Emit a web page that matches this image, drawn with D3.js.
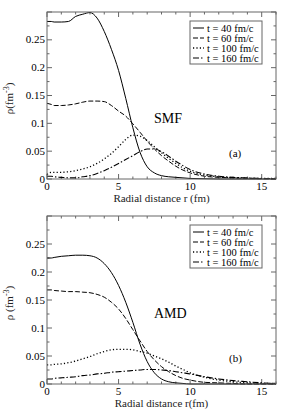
<!DOCTYPE html>
<html>
<head>
<meta charset="utf-8">
<script src="https://cdn.jsdelivr.net/npm/d3@7"></script>
<style>
  body { margin: 0; background: #fff; }
  svg { display: block; font-family: "Liberation Serif", "DejaVu Serif", serif; }
  .frame { fill: none; stroke: #666; stroke-width: 1; }
  .tick-line { stroke: #666; stroke-width: 1; }
</style>
</head>
<body>
<div id="chart"></div>
<script>
// radial grid (fm)
const rSMF = [0, 0.3, 0.5, 1, 1.5, 2, 2.5, 3, 3.5, 4, 4.5, 5, 5.5, 6, 6.5, 7, 7.5, 8, 8.5, 9, 9.5, 10, 11, 12, 13, 14, 15, 16];

// SMF densities (fm^-3)
const smf40  = [0.283, 0.283, 0.282, 0.282, 0.283, 0.292, 0.296, 0.299, 0.289, 0.265, 0.233, 0.195, 0.145, 0.092, 0.048, 0.022, 0.011, 0.006, 0.004, 0.003, 0.002, 0.001, 0.0005, 0, 0, 0, 0, 0];
const smf60  = [0.136, 0.134, 0.132, 0.132, 0.133, 0.135, 0.138, 0.140, 0.140, 0.139, 0.132, 0.122, 0.113, 0.099, 0.084, 0.068, 0.054, 0.042, 0.032, 0.023, 0.016, 0.011, 0.005, 0.003, 0.002, 0.001, 0.0005, 0];
const smf100 = [0.008, 0.012, 0.012, 0.012, 0.013, 0.015, 0.018, 0.022, 0.028, 0.036, 0.046, 0.058, 0.071, 0.079, 0.077, 0.069, 0.058, 0.047, 0.037, 0.028, 0.020, 0.014, 0.007, 0.004, 0.002, 0.0015, 0.001, 0.001];
const smf160 = [0.005, 0.005, 0.004, 0.003, 0.002, 0.002, 0.004, 0.006, 0.010, 0.015, 0.021, 0.028, 0.035, 0.042, 0.049, 0.054, 0.054, 0.049, 0.041, 0.032, 0.024, 0.017, 0.009, 0.005, 0.003, 0.002, 0.001, 0.001];

// AMD densities (fm^-3)
const amd40  = [0.225, 0.225, 0.226, 0.228, 0.229, 0.230, 0.230, 0.229, 0.225, 0.215, 0.199, 0.176, 0.146, 0.110, 0.071, 0.040, 0.020, 0.009, 0.004, 0.002, 0.001, 0, 0, 0, 0, 0, 0, 0];
const amd60  = [0.168, 0.168, 0.167, 0.166, 0.165, 0.165, 0.164, 0.163, 0.160, 0.155, 0.146, 0.134, 0.117, 0.097, 0.077, 0.058, 0.043, 0.031, 0.022, 0.015, 0.010, 0.007, 0.003, 0.002, 0.001, 0, 0, 0];
const amd100 = [0.034, 0.034, 0.035, 0.036, 0.038, 0.041, 0.045, 0.049, 0.054, 0.058, 0.061, 0.062, 0.062, 0.061, 0.058, 0.055, 0.050, 0.045, 0.039, 0.032, 0.026, 0.020, 0.012, 0.007, 0.004, 0.002, 0.001, 0.001];
const amd160 = [0.009, 0.009, 0.010, 0.011, 0.012, 0.013, 0.015, 0.016, 0.018, 0.019, 0.021, 0.022, 0.023, 0.024, 0.025, 0.026, 0.026, 0.025, 0.024, 0.022, 0.020, 0.018, 0.013, 0.009, 0.006, 0.004, 0.002, 0.001];

const legendLabels = ['t = 40 fm/c', 't = 60 fm/c', 't = 100 fm/c', 't = 160 fm/c'];
const dashes = [null, '5,2', '1.2,2.2', '6,2,1.5,2'];
const widths = [1, 1, 1.3, 1.1];
const xTicks = [0, 5, 10, 15];
const yTicks = [0, 0.05, 0.1, 0.15, 0.2, 0.25];
const yTickLabels = ['0', '0.05', '0.1', '0.15', '0.2', '0.25'];

const panels = [
  { top: 12, bottom: 179, series: [smf40, smf60, smf100, smf160], name: 'SMF', nameX: 154, nameY: 123, tag: '(a)', tagY: 157,
    yLabel: ['ρ(fm', '-3', ')'], xLabel: 'Radial distance r (fm)' },
  { top: 216, bottom: 384, series: [amd40, amd60, amd100, amd160], name: 'AMD', nameX: 154, nameY: 318, tag: '(b)', tagY: 362,
    yLabel: ['ρ (fm', '-3', ')'], xLabel: 'Radial distance r(fm)' }
];

const W = 291, H = 411;
const left = 47, right = 276;

const svg = d3.select('#chart').append('svg')
  .attr('width', W).attr('height', H);

const x = d3.scaleLinear().domain([0, 16]).range([left, right]);

panels.forEach(p => {
  const y = d3.scaleLinear().domain([0, 0.3]).range([p.bottom, p.top]);
  const g = svg.append('g');

  // ticks, inward on all four sides
  const tk = g.append('g');
  d3.range(0, 17, 1).forEach(v => {
    const len = v % 5 === 0 ? 5 : 2.5;
    tk.append('line').attr('class', 'tick-line')
      .attr('x1', x(v)).attr('x2', x(v)).attr('y1', p.bottom).attr('y2', p.bottom - len);
    tk.append('line').attr('class', 'tick-line')
      .attr('x1', x(v)).attr('x2', x(v)).attr('y1', p.top).attr('y2', p.top + len);
  });
  d3.range(0, 0.3001, 0.025).forEach((v, i) => {
    const len = i % 2 === 0 ? 5 : 2.5;
    tk.append('line').attr('class', 'tick-line')
      .attr('x1', left).attr('x2', left + len).attr('y1', y(v)).attr('y2', y(v));
    tk.append('line').attr('class', 'tick-line')
      .attr('x1', right).attr('x2', right - len).attr('y1', y(v)).attr('y2', y(v));
  });

  // tick labels
  xTicks.forEach(v => {
    g.append('text').attr('x', x(v)).attr('y', p.bottom + 11)
      .attr('text-anchor', 'middle').attr('font-size', 11).text(v);
  });
  yTicks.forEach((v, i) => {
    g.append('text').attr('x', left - 2).attr('y', y(v) + 3.5)
      .attr('text-anchor', 'end').attr('font-size', 11).text(yTickLabels[i]);
  });

  // axis titles
  g.append('text').attr('x', (left + right) / 2).attr('y', p.bottom + 23)
    .attr('text-anchor', 'middle').attr('font-size', 11).attr('fill', '#222').text(p.xLabel);

  const yl = g.append('text')
    .attr('transform', `translate(13,${(p.top + p.bottom) / 2 + 3}) rotate(-90)`)
    .attr('text-anchor', 'middle').attr('font-size', 11).attr('fill', '#222');
  yl.append('tspan').text(p.yLabel[0]);
  yl.append('tspan').attr('dy', -4).attr('font-size', 8).text(p.yLabel[1]);
  yl.append('tspan').attr('dy', 4).text(p.yLabel[2]);

  // curves
  const line = d3.line()
    .x((d, i) => x(rSMF[i]))
    .y(d => y(d))
    .curve(d3.curveMonotoneX);

  p.series.forEach((s, i) => {
    g.append('path').datum(s)
      .attr('d', line)
      .attr('fill', 'none')
      .attr('stroke', '#000')
      .attr('stroke-width', widths[i])
      .attr('stroke-dasharray', dashes[i]);
  });

  // frame
  g.append('rect').attr('class', 'frame')
    .attr('x', left).attr('y', p.top)
    .attr('width', right - left).attr('height', p.bottom - p.top);

  // legend
  const lx = 190, ly = p.top + 9;
  g.append('rect').attr('x', lx).attr('y', ly)
    .attr('width', 72).attr('height', 43)
    .attr('fill', '#fff').attr('stroke', '#666');
  legendLabels.forEach((lab, i) => {
    const yy = ly + 7 + i * 10;
    g.append('line').attr('x1', lx + 3).attr('x2', lx + 14)
      .attr('y1', yy).attr('y2', yy)
      .attr('stroke', '#000').attr('stroke-width', widths[i])
      .attr('stroke-dasharray', dashes[i]);
    g.append('text').attr('x', lx + 17).attr('y', yy + 3.5)
      .attr('font-size', 10.5).text(lab);
  });

  // panel labels
  g.append('text').attr('x', p.nameX).attr('y', p.nameY)
    .attr('font-size', 14).text(p.name);
  g.append('text').attr('x', 229).attr('y', p.tagY)
    .attr('font-size', 11).text(p.tag);
});
</script>
</body>
</html>
